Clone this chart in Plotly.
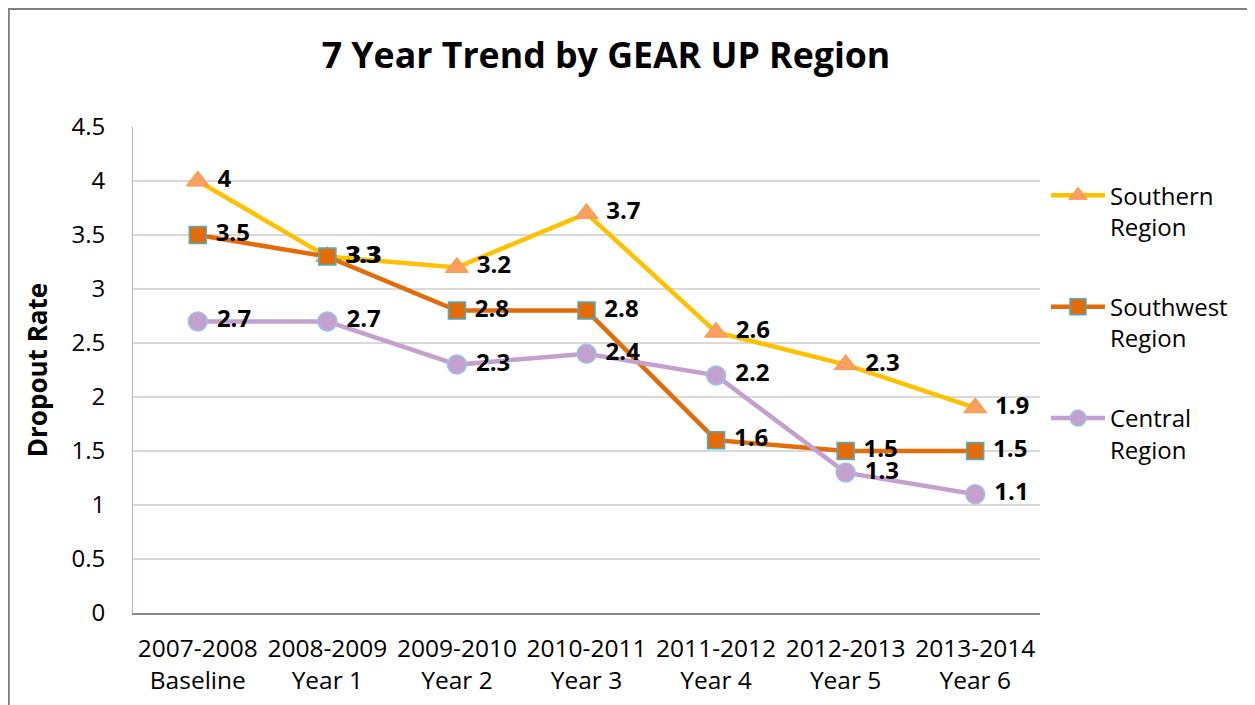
import plotly.graph_objects as go

# datos
periodos = ["2007-2008<br>Baseline", "2008-2009<br>Year 1", "2009-2010<br>Year 2",
            "2010-2011<br>Year 3", "2011-2012<br>Year 4", "2012-2013<br>Year 5",
            "2013-2014<br>Year 6"]
southern = [4, 3.3, 3.2, 3.7, 2.6, 2.3, 1.9]
southwest = [3.5, 3.3, 2.8, 2.8, 1.6, 1.5, 1.5]
central = [2.7, 2.7, 2.3, 2.4, 2.2, 1.3, 1.1]

fuente = "Open Sans"
etiqueta = dict(family=fuente, size=24, color="black", weight="bold")

fig = go.Figure()

fig.add_trace(go.Scatter(
    x=periodos, y=southern, name="Southern<br>Region", legendgroup="a",
    mode="lines+markers+text", text=[f" {v:g}" for v in southern],
    textposition="middle right", textfont=etiqueta,
    line=dict(color="#FFC000", width=4.5),
    marker=dict(symbol="triangle-up", size=20, color="#F9A05E",
                line=dict(color="#F79646", width=1))))

fig.add_trace(go.Scatter(
    x=periodos, y=southwest, name="Southwest<br>Region", legendgroup="b",
    mode="lines+markers+text", text=[f" {v:g}" for v in southwest],
    textposition="middle right", textfont=etiqueta,
    line=dict(color="#E36C09", width=4.5),
    marker=dict(symbol="square", size=17, color="#E36C09",
                line=dict(color="#4BACC6", width=1.5))))

fig.add_trace(go.Scatter(
    x=periodos, y=central, name="Central<br>Region", legendgroup="c",
    mode="lines+markers+text", text=[f" {v:g}" for v in central],
    textposition="middle right", textfont=etiqueta,
    line=dict(color="#C3A0CD", width=4.5),
    marker=dict(symbol="circle", size=19, color="#C3A0CD",
                line=dict(color="#9DC3E6", width=1.5))))

# borde del grafico (cortado a la derecha y abajo)
fig.add_shape(type="rect", xref="paper", yref="paper",
              x0=-0.1369, x1=1.5, y0=-0.5, y1=1.2428,
              line=dict(color="#808080", width=2), layer="below")

fig.update_layout(
    width=1255, height=705,
    margin=dict(l=125, r=223, t=119, b=100),
    paper_bgcolor="white", plot_bgcolor="white",
    font=dict(family=fuente, size=24, color="black"),
    title=dict(text="<b>7 Year Trend by GEAR UP Region</b>",
               font=dict(family=fuente, size=35.7, color="black"),
               x=0.4765, xref="container", xanchor="center",
               y=0.933, yref="container", yanchor="middle"),
    legend=dict(x=1.0066, y=0.905, xanchor="left", yanchor="top",
                valign="top", tracegroupgap=46, itemwidth=54,
                font=dict(family=fuente, size=24, color="black")),
    showlegend=True,
)

fig.update_xaxes(range=[-0.5, 6.5], showline=True, linecolor="#8C8C8C",
                 linewidth=2, showgrid=False, ticks="",
                 ticklabelstandoff=13, tickfont=dict(size=24.5))
fig.update_yaxes(range=[0, 4.5], dtick=0.5, showline=True, linecolor="#C8A8D8",
                 linewidth=1, gridcolor="#D9D9D9", gridwidth=1.5,
                 zeroline=False, ticks="", ticklabelstandoff=22,
                 tickfont=dict(size=24),
                 title=dict(text="<b>Dropout Rate</b>", standoff=16,
                            font=dict(family=fuente, size=26)))

fig.write_html("out.html")
